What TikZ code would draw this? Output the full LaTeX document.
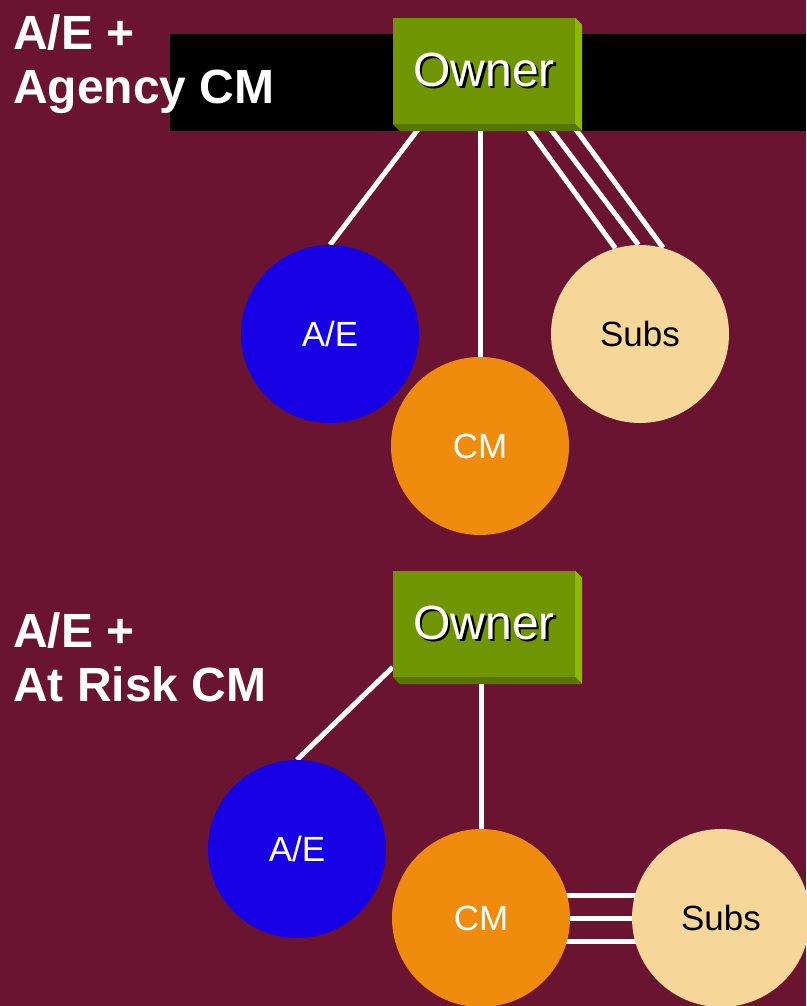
\documentclass[tikz,border=0pt]{standalone}
\usepackage{fontspec}
\setmainfont{Liberation Sans}
\usetikzlibrary{calc,backgrounds}
\pgfdeclarelayer{links}
\pgfsetlayers{background,links,main}

\definecolor{wine}{HTML}{6B1431}
\definecolor{ownerfront}{HTML}{6F9600}
\definecolor{ownerside}{HTML}{8CBA00}
\definecolor{ownerbottom}{HTML}{577600}
\definecolor{aeblue}{HTML}{1700E4}
\definecolor{cmorange}{HTML}{F08C0D}
\definecolor{subsbeige}{HTML}{F7D799}

\tikzset{
  ownerbox/.style={fill=ownerfront, minimum width=182, minimum height=106,
    inner sep=0pt, text=white, font=\fontsize{48}{56}\selectfont},
  party/.style={circle, minimum size=178, inner sep=0pt,
    font=\fontsize{35}{42}\selectfont},
  aenode/.style={party, fill=aeblue, text=white},
  cmnode/.style={party, fill=cmorange, text=white},
  subsnode/.style={party, fill=subsbeige, text=black},
  link/.style={draw=white, line width=5},
  heading/.style={anchor=north west, align=left, inner sep=0pt, text=white,
    font=\fontsize{48}{54}\selectfont\bfseries},
}

% white lettering with a small dark drop shadow
\newcommand{\shadowed}[1]{\raisebox{-3pt}{\rlap{\hspace{2.5pt}\raisebox{-2.5pt}{\color{black}#1}}#1}}

% front face plus lit right edge and shaded lower edge
\newcommand{\bevel}[1]{%
  \fill[ownerside] (#1.north east) -- ++(7,7) -- ($(#1.south east)+(7,7)$) -- (#1.south east) -- cycle;
  \fill[ownerbottom] (#1.south west) -- (#1.south east) -- ++(7,7) -- ($(#1.south west)+(7,7)$) -- cycle;
}

\begin{document}
\begin{tikzpicture}[x=1pt,y=-1pt]
  \useasboundingbox (0,0) rectangle (806,1006);
  \begin{scope}[on background layer]
    \fill[wine] (0,0) rectangle (806,1006);
    \fill[black] (170,34) rectangle (806,131);
  \end{scope}

  % Agency CM arrangement
  \node[heading] (title1) at (13,15) {A/E +\\Agency CM};
  \node[ownerbox] (owner1) at (484,71) {\shadowed{Owner}};
  \bevel{owner1}
  \node[aenode] (ae1) at (330,334) {A/E};
  \node[cmnode] (cm1) at (480,446) {CM};
  \node[subsnode] (subs1) at (640,334) {Subs};

  \begin{pgfonlayer}{links}
    \draw[link] ($(owner1.south)+(-62,0)$) -- (ae1.north);
    \draw[link] (owner1.south -| cm1.north) -- (cm1.north);
    \draw[link] ($(owner1.south)+(41,0)$) -- (subs1.106);
    \draw[link] ($(owner1.south)+(63,0)$) -- (subs1.91);
    \draw[link] ($(owner1.south)+(88,0)$) -- (subs1.75);
  \end{pgfonlayer}

  % At Risk CM arrangement
  \node[heading] (title2) at (13,613) {A/E +\\At Risk CM};
  \node[ownerbox] (owner2) at (484,624) {\shadowed{Owner}};
  \bevel{owner2}
  \node[aenode] (ae2) at (297,849) {A/E};
  \node[cmnode] (cm2) at (481,918) {CM};
  \node[subsnode] (subs2) at (721,918) {Subs};

  \begin{pgfonlayer}{links}
    \draw[link] ($(owner2.south west)+(0,-10)$) -- (ae2.north);
    \draw[link] (owner2.south -| cm2.north) -- (cm2.north);
    \draw[link] ($(cm2.east)+(-5,-23)$) -- ($(subs2.west)+(5,-23)$);
    \draw[link] (cm2.east) -- (subs2.west);
    \draw[link] ($(cm2.east)+(-5,23)$) -- ($(subs2.west)+(5,23)$);
  \end{pgfonlayer}
\end{tikzpicture}
\end{document}
